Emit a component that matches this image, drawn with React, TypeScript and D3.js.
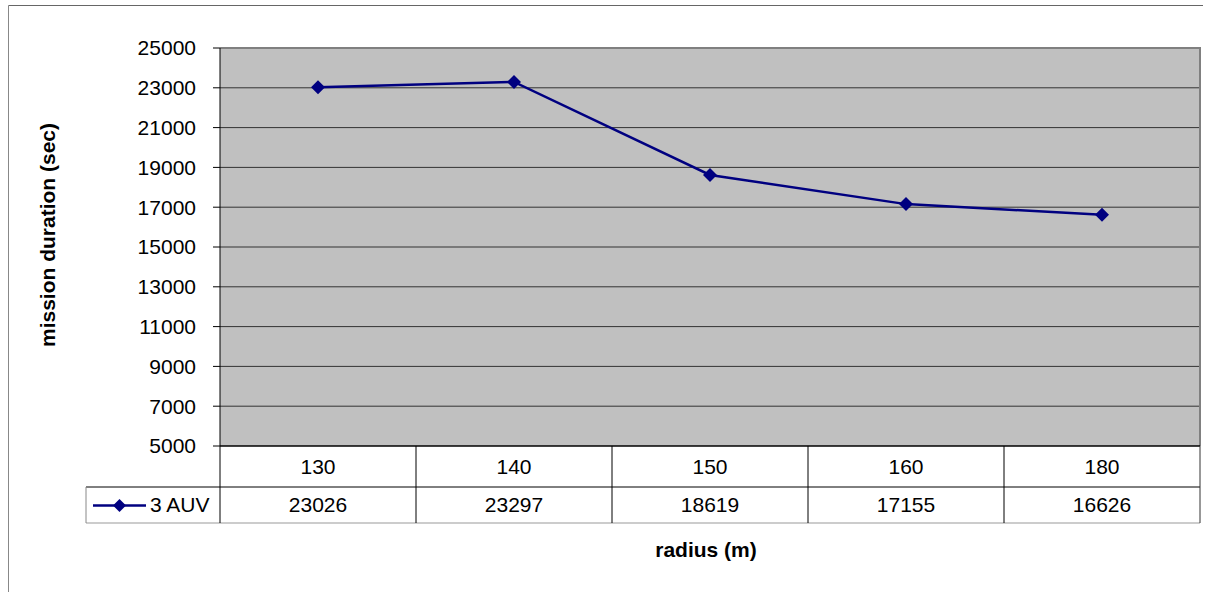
import React from "react";
import * as d3 from "d3";

const categories = ["130", "140", "150", "160", "180"];
const seriesName = "3 AUV";
const values = [23026, 23297, 18619, 17155, 16626];
const yTicks = [5000, 7000, 9000, 11000, 13000, 15000, 17000, 19000, 21000, 23000, 25000];
const yTitle = "mission duration (sec)";
const xTitle = "radius (m)";

const W = 1214, H = 592;
const L = 220, R = 1200, T = 48, B = 446;
const ROW1 = 487, ROW2 = 523, LEG_L = 86;
const FONT = "Liberation Sans, Arial, sans-serif";
const NAVY = "#000080";

export default function App() {
  const x = d3.scaleBand().domain(categories).range([L, R]).padding(0);
  const y = d3.scaleLinear().domain([5000, 25000]).range([B, T]);
  const cx = (c: string) => (x(c) as number) + x.bandwidth() / 2;
  const line = d3.line<number>().x((_, i) => cx(categories[i])).y((v) => y(v));
  const diamond = (px: number, py: number, r: number) =>
    `M${px},${py - r}L${px + r},${py}L${px},${py + r}L${px - r},${py}Z`;

  return (
    <svg width={W} height={H} style={{ position: "absolute", left: 0, top: 0 }} fontFamily={FONT}>
      <rect x={0} y={0} width={W} height={H} fill="#fff" />
      {/* outer frame */}
      <line x1={8.5} y1={5.5} x2={1203} y2={5.5} stroke="#666" strokeWidth={1} />
      <line x1={8.5} y1={5.5} x2={8.5} y2={H} stroke="#888" strokeWidth={1} />
      {/* plot area */}
      <rect x={L} y={T} width={R - L} height={B - T} fill="#C0C0C0" />
      {yTicks.filter((t) => t !== 5000 && t !== 25000).map((t) => (
        <line key={t} x1={L} x2={R} y1={y(t)} y2={y(t)} stroke="#333" strokeWidth={1} />
      ))}
      <line x1={L} x2={R + 1} y1={T} y2={T} stroke="#808080" strokeWidth={2} />
      <line x1={R} x2={R} y1={T} y2={B} stroke="#808080" strokeWidth={2} />
      {/* y axis */}
      <line x1={L} x2={L} y1={T} y2={B} stroke="#000" strokeWidth={1} />
      {yTicks.map((t) => (
        <g key={t}>
          <line x1={213} x2={L} y1={y(t)} y2={y(t)} stroke="#000" strokeWidth={1} />
          <text x={196} y={y(t)} dy="0.35em" textAnchor="end" fontSize={21} fill="#000">{t}</text>
        </g>
      ))}
      {/* data table */}
      <line x1={L} x2={R} y1={B} y2={B} stroke="#000" strokeWidth={1.5} />
      <line x1={LEG_L} x2={R} y1={ROW1} y2={ROW1} stroke="#000" strokeWidth={1} />
      <line x1={LEG_L} x2={R} y1={ROW2} y2={ROW2} stroke="#999" strokeWidth={1} />
      <line x1={LEG_L} x2={LEG_L} y1={ROW1} y2={ROW2} stroke="#888" strokeWidth={1} />
      <line x1={R} x2={R} y1={B} y2={ROW2} stroke="#333" strokeWidth={1} />
      {categories.map((c) => (
        <line key={c} x1={x(c) as number} x2={x(c) as number} y1={B} y2={ROW2} stroke="#000" strokeWidth={1} />
      ))}
      {categories.map((c, i) => (
        <g key={c}>
          <text x={cx(c)} y={(B + ROW1) / 2} dy="0.35em" textAnchor="middle" fontSize={21}>{c}</text>
          <text x={cx(c)} y={(ROW1 + ROW2) / 2} dy="0.35em" textAnchor="middle" fontSize={21}>{values[i]}</text>
        </g>
      ))}
      {/* legend */}
      <line x1={93} x2={146} y1={(ROW1 + ROW2) / 2 + 0.5} y2={(ROW1 + ROW2) / 2 + 0.5} stroke={NAVY} strokeWidth={2.5} />
      <path d={diamond(119.5, (ROW1 + ROW2) / 2 + 0.5, 6.5)} fill={NAVY} />
      <text x={150} y={(ROW1 + ROW2) / 2} dy="0.35em" fontSize={21}>{seriesName}</text>
      {/* series */}
      <path d={line(values) || ""} fill="none" stroke={NAVY} strokeWidth={2.5} />
      {values.map((v, i) => (
        <path key={i} d={diamond(cx(categories[i]), y(v), 7)} fill={NAVY} />
      ))}
      {/* axis titles */}
      <text x={0} y={0} transform={`translate(55, ${(T + B) / 2 - 12}) rotate(-90)`} textAnchor="middle" fontSize={21} fontWeight="bold">{yTitle}</text>
      <text x={706} y={557} textAnchor="middle" fontSize={21} fontWeight="bold">{xTitle}</text>
    </svg>
  );
}
